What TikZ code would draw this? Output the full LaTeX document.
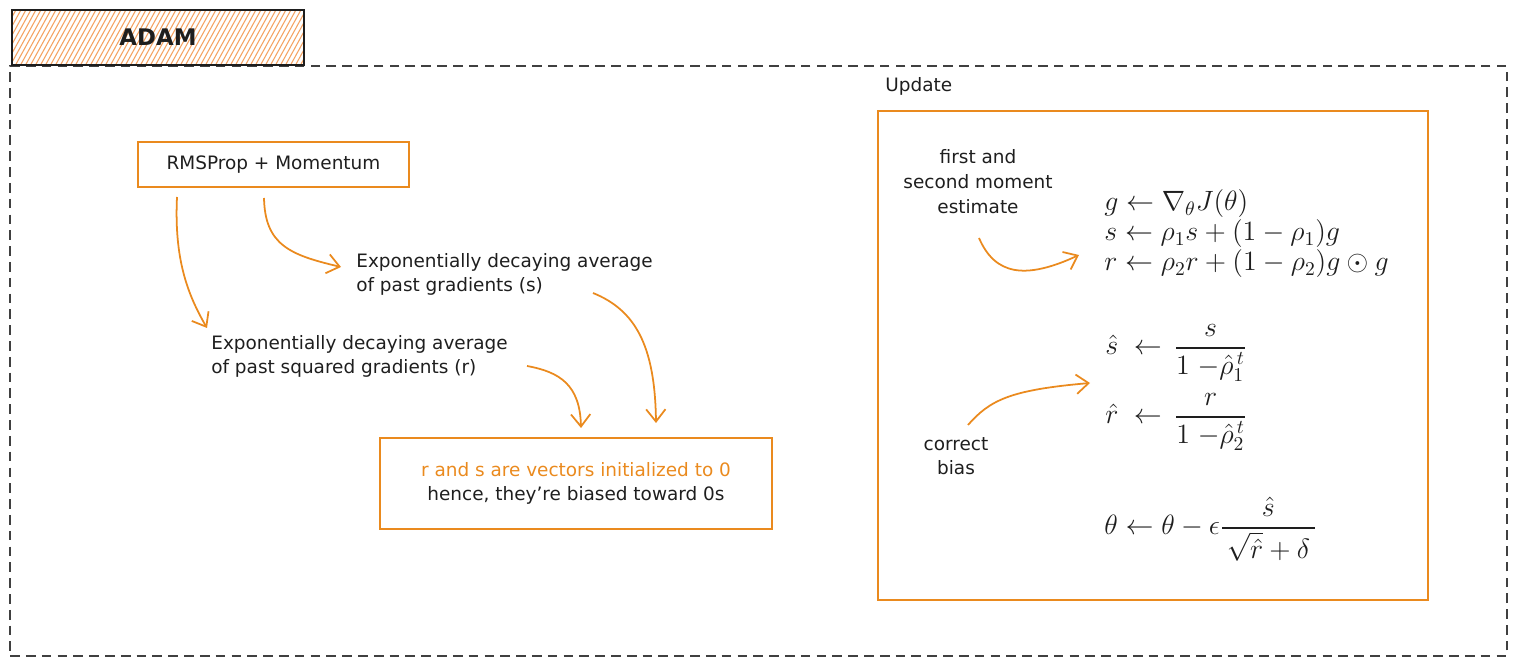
\RequirePackage{fix-cm}
\documentclass[tikz,border=0pt]{standalone}
\usepackage{fontspec}
\setmainfont{DejaVu Sans}
\usepackage{amsmath}
\usetikzlibrary{arrows.meta}
\definecolor{accent}{HTML}{EA8A1E}
\definecolor{hatch}{HTML}{F4A261}
\definecolor{ink}{HTML}{1E1E1E}
\begin{document}
\begin{tikzpicture}[x=0.02cm,y=-0.02cm,
  every node/.style={inner sep=0pt, text=ink},
  hand/.style={font=\fontsize{10.5}{13.6}\selectfont},
  obox/.style={draw=accent, line width=1pt},
  flow/.style={draw=accent, line width=1pt, -{Straight Barb[length=7pt,width=11pt,line width=1pt]}},
  mathtxt/.style={font=\fontsize{15.9}{19}\selectfont, anchor=base west},
]
\useasboundingbox (0,0) rectangle (1516,665);

% outer dashed frame
\node[draw=ink!85, line width=0.9pt, dash pattern=on 5.5pt off 3.5pt,
      minimum width=29.94cm, minimum height=11.8cm] (frame) at (758.5,361) {};

% title with hatched fill
\begin{scope}
  \clip (12,10) rectangle (304,65);
  \foreach \i in {-40,-35,...,310} \draw[hatch, line width=0.6pt] (\i,66) -- ++(32,-58);
\end{scope}
\node[draw=ink, line width=1pt, minimum width=5.84cm, minimum height=1.1cm,
      font=\fontsize{13}{15}\selectfont\bfseries] (title) at (158,37.5) {ADAM};

% left part: RMSProp + Momentum and its two averages
\node[obox, minimum width=5.42cm, minimum height=0.9cm, hand] (rms) at (273.5,164.5) {RMSProp + Momentum};
\node[hand, anchor=west, align=left] (avgs) at (356,274) {Exponentially decaying average\\of past gradients (s)};
\node[hand, anchor=west, align=left] (avgr) at (211,356) {Exponentially decaying average\\of past squared gradients (r)};
\node[obox, minimum width=7.84cm, minimum height=1.82cm, hand, align=center] (biasbox) at (576,483.5)
  {\textcolor{accent}{r and s are vectors initialized to 0}\\hence, they're biased toward 0s};

\coordinate (a1s) at (177,197); \coordinate (a1e) at (207,328);
\draw[flow] (a1s) .. controls (174,260) and (188,295) .. (a1e);
\coordinate (a2s) at (264,198); \coordinate (a2e) at (341,267);
\draw[flow] (a2s) .. controls (265,245) and (290,255) .. (a2e);
\coordinate (a3s) at (593,293); \coordinate (a3e) at (656,423);
\draw[flow] (a3s) .. controls (635,310) and (655,345) .. (a3e);
\coordinate (a4s) at (527,366); \coordinate (a4e) at (581,428);
\draw[flow] (a4s) .. controls (560,372) and (580,385) .. (a4e);

% right part: update rule
\node[anchor=west, hand] (updlbl) at (885,86) {Update};
\node[obox, minimum width=11cm, minimum height=9.78cm] (upd) at (1153,355.5) {};
\node[hand, align=center, font=\fontsize{10.5}{14.2}\selectfont] (moment) at (978,182) {first and\\second moment\\estimate};
\node[hand, align=center] (correct) at (956,456.5) {correct\\bias};

\node[mathtxt] (eqg) at (1104,211) {$g \leftarrow \nabla_{\theta} J(\theta)$};
\node[mathtxt] (eqs) at (1104,241) {$s \leftarrow \rho_1 s + (1-\rho_1) g$};
\node[mathtxt] (eqr) at (1104,271) {$r \leftarrow \rho_2 r + (1-\rho_2) g \odot g$};
\node[mathtxt] (eqsh) at (1105,355) {$\hat{s} \;\leftarrow\, \dfrac{s}{1\;{-}\hat{\rho}_1^{\,t}}$};
\node[mathtxt] (eqrh) at (1105,424) {$\hat{r} \;\leftarrow\, \dfrac{r}{1\;{-}\hat{\rho}_2^{\,t}}$};
\node[mathtxt] (eqt) at (1104,535) {$\theta \leftarrow \theta - \epsilon \dfrac{\hat{s}}{\,\sqrt{\hat{r}} + \delta\,}$};

\coordinate (a5s) at (979,238); \coordinate (a5e) at (1079,255);
\draw[flow] (a5s) .. controls (995,275) and (1025,280) .. (a5e);
\coordinate (a6s) at (968,425); \coordinate (a6e) at (1090,383);
\draw[flow] (a6s) .. controls (990,400) and (1010,390) .. (a6e);
\end{tikzpicture}
\end{document}
